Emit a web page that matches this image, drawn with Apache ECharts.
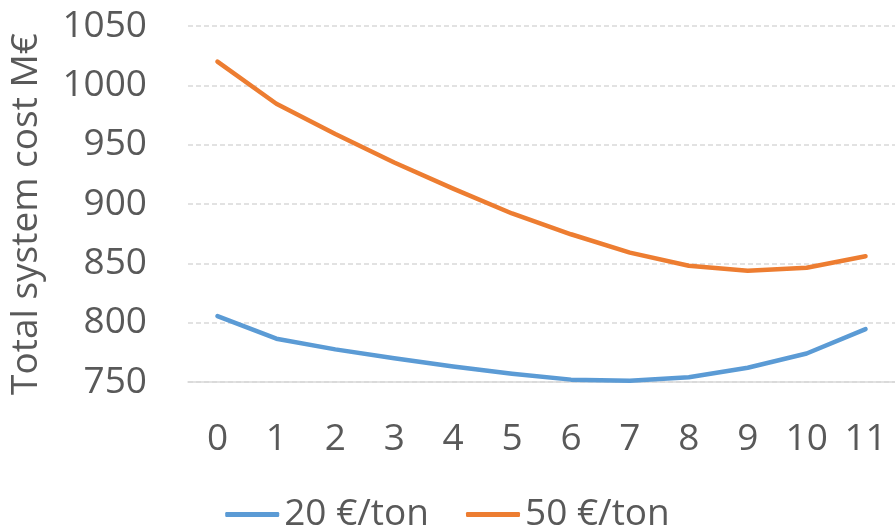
<!DOCTYPE html>
<html>
<head>
<meta charset="utf-8">
<script src="https://cdn.jsdelivr.net/npm/echarts@6/dist/echarts.min.js"></script>
<style>
html,body{margin:0;padding:0;background:#fff;}
#c{width:895px;height:531px;}
</style>
</head>
<body>
<div id="c"></div>
<script>
const categories = ['0','1','2','3','4','5','6','7','8','9','10','11'];
const series20 = [805.5, 786.5, 777.5, 770, 763, 757, 752, 751, 754, 762, 774, 794.5];
const series50 = [1020, 984.5, 959, 935, 913, 892, 874.5, 859, 848, 843.8, 846.3, 856];
const seriesNames = ['20 €/ton', '50 €/ton'];
const yTicks = {min: 750, max: 1050, interval: 50};
const yTitle = 'Total system cost M€';

const FONT = '"Open Sans", sans-serif';
const TXT = '#595959';
const chart = echarts.init(document.getElementById('c'), null, {renderer: 'canvas'});
chart.setOption({
  animation: false,
  grid: {left: 186.5, top: 26, width: 712, height: 356, containLabel: false},
  legend: {
    data: seriesNames,
    bottom: -7,
    left: 'center',
    itemWidth: 54,
    itemHeight: 5,
    itemGap: 37,
    icon: 'roundRect',
    textStyle: {fontFamily: FONT, fontSize: 37, color: TXT}
  },
  xAxis: {
    type: 'category',
    data: categories,
    boundaryGap: true,
    axisLine: {show: true, lineStyle: {color: '#d9d9d9', width: 1.5}},
    axisTick: {show: false},
    axisLabel: {fontFamily: FONT, fontSize: 37, color: TXT, margin: 39}
  },
  yAxis: {
    type: 'value',
    min: yTicks.min, max: yTicks.max, interval: yTicks.interval,
    name: yTitle,
    nameLocation: 'middle',
    nameGap: 143,
    nameRotate: 90,
    nameTextStyle: {fontFamily: FONT, fontSize: 37, color: TXT, padding: [0, 20, 0, 0]},
    axisLine: {show: false},
    axisTick: {show: false},
    axisLabel: {fontFamily: FONT, fontSize: 37, color: TXT, margin: 41, formatter: function (v) { return String(v); }},
    splitLine: {show: true, lineStyle: {color: '#d9d9d9', width: 1.5, type: [5, 3]}}
  },
  series: [
    {name: seriesNames[0], type: 'line', data: series20, symbol: 'none', smooth: false,
     lineStyle: {color: '#5B9BD5', width: 4.5, cap: 'round', join: 'round'}, itemStyle: {color: '#5B9BD5'}},
    {name: seriesNames[1], type: 'line', data: series50, symbol: 'none', smooth: false,
     lineStyle: {color: '#ED7D31', width: 4.5, cap: 'round', join: 'round'}, itemStyle: {color: '#ED7D31'}}
  ]
});
</script>
</body>
</html>
